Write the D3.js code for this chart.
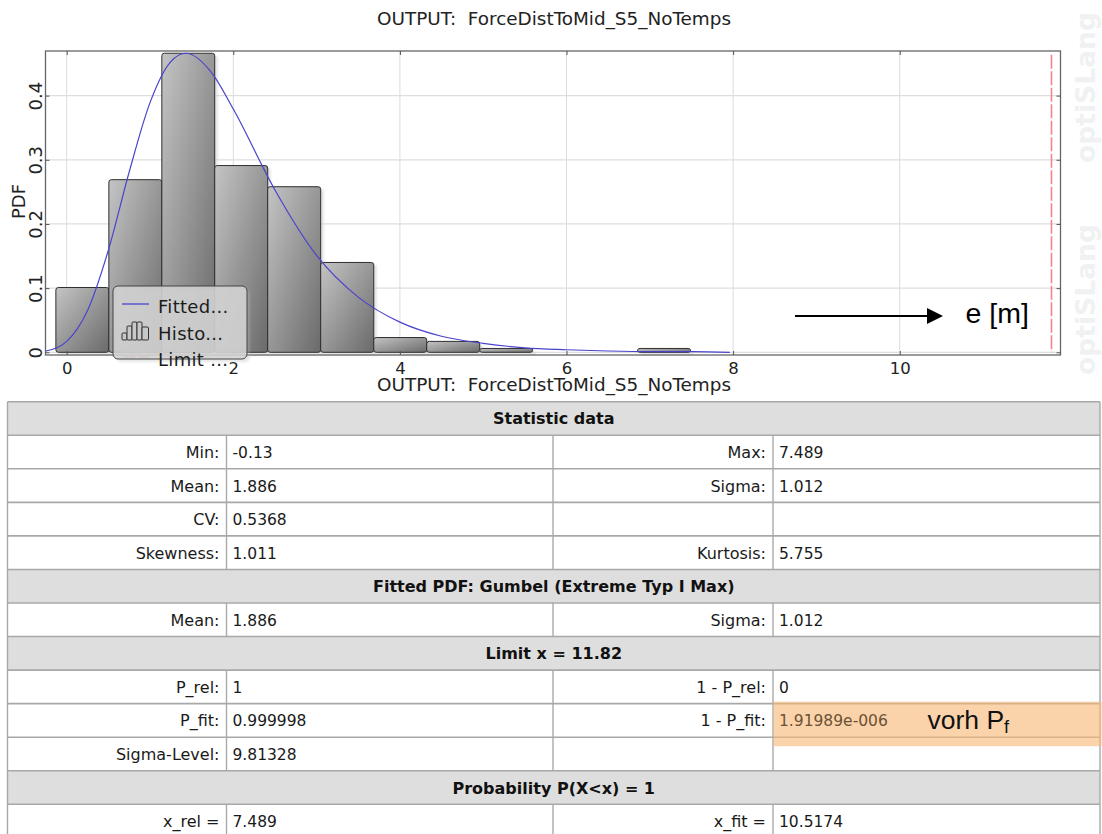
<!DOCTYPE html>
<html><head><meta charset="utf-8">
<script src="https://cdn.jsdelivr.net/npm/d3@7"></script>
<style>html,body{margin:0;padding:0;background:#fff;overflow:hidden}svg{display:block}</style>
</head><body><div id="c"></div>
<script>
const chartTitle = "OUTPUT:\u00a0 ForceDistToMid_S5_NoTemps";
const binEdges = [-0.13,0.506,1.142,1.777,2.413,3.049,3.686,4.322,4.958,5.594,6.217,6.853,7.489];
const binHeights = [0.101,0.269,0.466,0.291,0.258,0.140,0.023,0.017,0.006,0,0,0.006];
const curveX = [-0.25,0,0.25,0.5,0.75,1,1.25,1.43,1.75,2,2.5,3,3.5,4,4.5,5,5.5,6,6.5,7,7.5,7.96];
const curveY = [0.002,0.017,0.065,0.159,0.281,0.389,0.453,0.466,0.434,0.379,0.253,0.151,0.086,0.047,0.025,0.014,0.007,0.004,0.002,0.001,0.001,0];
const limitX = 11.82;
const xTicks = [0,2,4,6,8,10];
const yTicks = [0,0.1,0.2,0.3,0.4];
const legendLabels = ["Fitted...","Histo...","Limit ..."];
const highlightedValue = "1.91989e-006";
const tableRows = [
 ["Statistic data"],
 ["Min:","-0.13","Max:","7.489"],
 ["Mean:","1.886","Sigma:","1.012"],
 ["CV:","0.5368","",""],
 ["Skewness:","1.011","Kurtosis:","5.755"],
 ["Fitted PDF: Gumbel (Extreme Typ I Max)"],
 ["Mean:","1.886","Sigma:","1.012"],
 ["Limit x = 11.82"],
 ["P_rel:","1","1 - P_rel:","0"],
 ["P_fit:","0.999998","1 - P_fit:","1.91989e-006"],
 ["Sigma-Level:","9.81328","",""],
 ["Probability P(X<x) = 1"],
 ["x_rel =","7.489","x_fit =","10.5174"]
];

const W=1102,H=834;
const svg=d3.select("#c").append("svg").attr("width",W).attr("height",H);
const defs=svg.append("defs");
const g=defs.append("linearGradient").attr("id","bar").attr("x1",0).attr("y1",0).attr("x2",1).attr("y2",1);
g.append("stop").attr("offset",0).attr("stop-color","#c4c4c4");
g.append("stop").attr("offset",1).attr("stop-color","#6a6a6a");
const blur=defs.append("filter").attr("id","soft");
blur.append("feGaussianBlur").attr("stdDeviation",1.2);
const plot={l:45.5,r:1060.5,t:51,b:355};
const x=d3.scaleLinear().domain([-0.2545,11.93]).range([plot.l,plot.r]);
const y=d3.scaleLinear().domain([-0.0042,0.4695]).range([plot.b,plot.t]);
const F="'DejaVu Sans',sans-serif";

// watermark
[[1095,375],[1095,163]].forEach(p=>{
 svg.append("text").attr("transform",`translate(${p[0]},${p[1]}) rotate(-90)`)
  .attr("font-family",F).attr("font-weight","bold").attr("font-size",27)
  .attr("textLength",151).attr("lengthAdjust","spacingAndGlyphs")
  .attr("fill","#f1f1f1").text("optiSLang");
});

// titles
[25,391].forEach(t=>svg.append("text").attr("x",377).attr("y",t)
 .attr("font-family",F).attr("font-size",17).attr("fill","#222")
 .attr("textLength",354).attr("lengthAdjust","spacingAndGlyphs").text(chartTitle));

// grid
const grid=svg.append("g");
grid.selectAll("line.v").data(xTicks).join("line").attr("x1",d=>x(d)).attr("x2",d=>x(d)).attr("y1",plot.t).attr("y2",plot.b).attr("stroke","#dcdcdc").attr("stroke-width",1);
grid.selectAll("line.h").data(yTicks).join("line").attr("x1",plot.l).attr("x2",plot.r).attr("y1",d=>y(d)).attr("y2",d=>y(d)).attr("stroke","#dedede").attr("stroke-width",1.2);

// bars
const bins=binHeights.map((h,i)=>({a:binEdges[i],b:binEdges[i+1],h})).filter(d=>d.h>0);
svg.append("g").selectAll("rect").data(bins).join("rect")
 .attr("x",d=>x(d.a)+3).attr("y",d=>y(d.h)+3).attr("width",d=>x(d.b)-x(d.a)).attr("height",d=>y(0)-y(d.h))
 .attr("fill","#ccc").attr("opacity",.55).attr("filter","url(#soft)");
svg.append("g").selectAll("rect").data(bins).join("rect")
 .attr("x",d=>x(d.a)).attr("y",d=>y(d.h)).attr("width",d=>x(d.b)-x(d.a)).attr("height",d=>y(0)-y(d.h))
 .attr("rx",2.5).attr("fill","url(#bar)").attr("stroke","#2e2e2e").attr("stroke-width",1);

// curve
const line=d3.line().x(d=>x(d[0])).y(d=>y(d[1])).curve(d3.curveMonotoneX);
svg.append("path").datum(curveX.map((v,i)=>[v,curveY[i]])).attr("d",line).attr("fill","none").attr("stroke","#4a44cc").attr("stroke-width",1.2);

// frame + axes
svg.append("rect").attr("x",plot.l).attr("y",plot.t).attr("width",plot.r-plot.l).attr("height",plot.b-plot.t).attr("fill","none").attr("stroke","#666").attr("stroke-width",1.3);
const axF=s=>s.call(a=>a.select(".domain").remove()).attr("font-family",F).attr("font-size",16.5);
const ax=svg.append("g").attr("transform",`translate(0,${plot.b})`).call(d3.axisBottom(x).tickValues(xTicks).tickSize(-4).tickFormat(d3.format("d"))).call(axF);
ax.selectAll("line").attr("stroke","#555");
ax.selectAll("text").attr("fill","#222").attr("dy","0.71em").attr("y",7);
svg.append("g").attr("transform",`translate(0,${plot.t})`).call(d3.axisTop(x).tickValues(xTicks).tickSize(-4).tickFormat("")).call(axF).selectAll("line").attr("stroke","#555");
const ay=svg.append("g").attr("transform",`translate(${plot.l},0)`).call(d3.axisLeft(y).tickValues(yTicks).tickSize(-4).tickFormat(d=>d===0?"0":d3.format(".1f")(d))).call(axF);
ay.selectAll("line").attr("stroke","#555");
ay.selectAll("text").attr("text-anchor","middle").attr("dy",0).attr("x",0).attr("y",0).attr("font-size",18).attr("fill","#222")
 .attr("transform","translate(-3.5,0) rotate(-90)");
svg.append("g").attr("transform",`translate(${plot.r},0)`).call(d3.axisRight(y).tickValues(yTicks).tickSize(-4).tickFormat("")).call(axF).selectAll("line").attr("stroke","#555");
svg.append("text").attr("transform","translate(25,201.5) rotate(-90)").attr("text-anchor","middle").attr("font-family",F).attr("font-size",18).attr("fill","#222").text("PDF");

// limit
svg.append("line").attr("x1",Math.round(x(limitX))+0.5).attr("x2",Math.round(x(limitX))+0.5).attr("y1",y(0.4635)).attr("y2",y(0)).attr("stroke","#f8838b").attr("stroke-width",1.6).attr("stroke-dasharray","14,2.5");

// legend
const lg=svg.append("g");
lg.append("line").attr("x1",124).attr("x2",149).attr("y1",357).attr("y2",357).attr("stroke","#e88").attr("stroke-width",2).attr("stroke-dasharray","11,3");
lg.append("rect").attr("x",116).attr("y",289).attr("width",134).attr("height",73).attr("rx",5).attr("fill","#bbb").attr("opacity",.35).attr("filter","url(#soft)");
lg.append("rect").attr("x",113).attr("y",286).attr("width",134).attr("height",73).attr("rx",5).attr("fill","#d4d4d4").attr("fill-opacity",.85).attr("stroke","#444").attr("stroke-width",1);
lg.append("line").attr("x1",122).attr("x2",149).attr("y1",304).attr("y2",304).attr("stroke","#4a44cc").attr("stroke-width",1.3);
const ic=[[122,333,340],[127,326,340],[132,322,340],[137,322,340],[142,327,340]];
lg.append("g").selectAll("rect").data(ic).join("rect").attr("x",d=>d[0]).attr("y",d=>d[1]).attr("width",d=>d[0]==142?6.5:5).attr("height",d=>d[2]-d[1]).attr("rx",1).attr("fill","#c8c8c8").attr("stroke","#333").attr("stroke-width",1);
lg.selectAll("text").data(legendLabels).join("text").attr("x",158).attr("y",(d,i)=>313+i*26.6).attr("font-family",F).attr("font-size",18).attr("letter-spacing",.3).attr("fill","#1c1c1c").text(d=>d);

// arrow annotation
svg.append("line").attr("x1",795).attr("x2",930).attr("y1",316).attr("y2",316).attr("stroke","#000").attr("stroke-width",2);
svg.append("path").attr("d","M927,308L943,316L927,324Z").attr("fill","#000");
svg.append("text").attr("x",965.5).attr("y",323).attr("font-family","'Liberation Sans',sans-serif").attr("font-size",28.5).attr("fill","#000").text("e [m]");

// table
const tx=[7.5,226.5,553,773,1100];
const ty=d3.scaleLinear().domain([0,1]).range([401.7,435.25]);
const TF="'DejaVu Sans',sans-serif";
const tb=svg.append("g");
tb.append("rect").attr("x",tx[0]).attr("y",ty(0)).attr("width",tx[4]-tx[0]).attr("height",H-ty(0)+10).attr("fill","#fff");
tableRows.forEach((r,i)=>{
 const y0=ty(i),y1=ty(i+1);
 if(r.length===1){
  tb.append("rect").attr("x",tx[0]).attr("y",y0).attr("width",tx[4]-tx[0]).attr("height",y1-y0).attr("fill","#dedede");
 } else {
  [1,2,3].forEach(k=>tb.append("line").attr("x1",tx[k]).attr("x2",tx[k]).attr("y1",y0).attr("y2",y1).attr("stroke","#aaa").attr("stroke-width",1.4));
 }
});
d3.range(0,tableRows.length+1).forEach(i=>tb.append("line").attr("x1",tx[0]).attr("x2",tx[4]).attr("y1",ty(i)).attr("y2",ty(i)).attr("stroke","#a8a8a8").attr("stroke-width",1.6));
[tx[0],tx[4]].forEach(v=>tb.append("line").attr("x1",v).attr("x2",v).attr("y1",ty(0)).attr("y2",H).attr("stroke","#a8a8a8").attr("stroke-width",1.4));

// highlight
svg.append("rect").attr("x",773.5).attr("y",701.7).attr("width",328).attr("height",44.5).attr("fill","#f9b877").attr("fill-opacity",.62);

// table text
const tt=svg.append("g");
tableRows.forEach((r,i)=>{
 const yc=(ty(i)+ty(i+1))/2+6;
 if(r.length===1){
  tt.append("text").attr("x",(tx[0]+tx[4])/2).attr("y",yc).attr("text-anchor","middle").attr("font-family",TF).attr("font-weight","bold").attr("font-size",16).attr("fill","#111").text(r[0]);
 } else {
  [0,2].forEach(k=>{
   if(r[k]) tt.append("text").attr("x",tx[k+1]-7).attr("y",yc).attr("text-anchor","end").attr("font-family",TF).attr("font-size",16).attr("fill","#1a1a1a").text(r[k]);
   if(r[k+1]) tt.append("text").attr("x",tx[k+1]+6).attr("y",yc).attr("font-family",TF).attr("font-size",15.5).attr("fill",r[k+1]===highlightedValue?"#6b5233":"#1a1a1a").text(r[k+1]);
  });
 }
});
const vp=svg.append("text").attr("x",927.5).attr("y",729).attr("font-family","'Liberation Sans',sans-serif").attr("font-size",26.5).attr("fill","#111");
vp.append("tspan").text("vorh P");
vp.append("tspan").attr("font-size",18).attr("dy",4).text("f");
</script></body></html>
